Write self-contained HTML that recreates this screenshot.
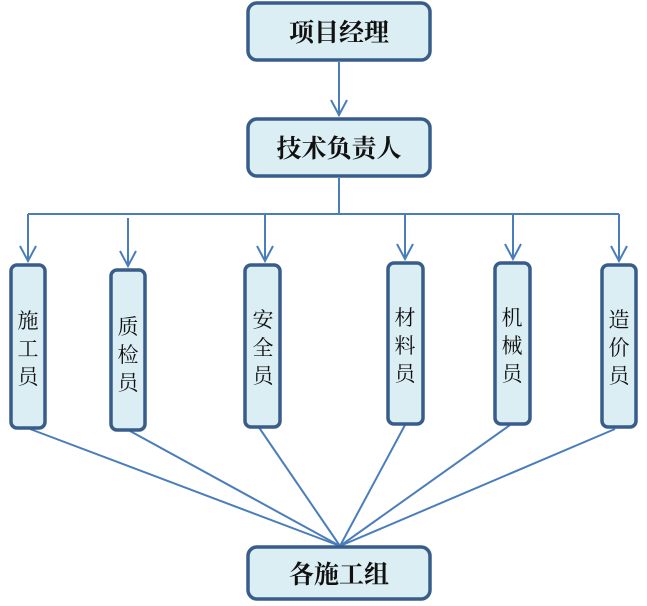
<!DOCTYPE html>
<html><head><meta charset="utf-8"><style>
body{margin:0;background:#fff;width:647px;height:606px;overflow:hidden}
svg{display:block}
text{font-family:"Liberation Serif","Noto Serif CJK SC",serif;fill:#111}
</style></head><body>
<svg width="647" height="606" viewBox="0 0 647 606">
<g stroke="#4a7ebb" stroke-width="2" fill="none">
<line x1="339" y1="62" x2="339" y2="116"/>
<polyline points="331,100 339,115 347,100"/>
<line x1="339" y1="178" x2="339" y2="214"/>
<line x1="28" y1="214" x2="619" y2="214"/>
<line x1="28" y1="214" x2="28" y2="261"/><polyline points="20,246 28,261 36,246"/>
<line x1="128" y1="218" x2="128" y2="266"/><polyline points="120,251 128,266 136,251"/>
<line x1="265" y1="214" x2="265" y2="261"/><polyline points="257,246 265,261 273,246"/>
<line x1="405" y1="214" x2="405" y2="259"/><polyline points="397,244 405,259 413,244"/>
<line x1="513" y1="214" x2="513" y2="259"/><polyline points="505,244 513,259 521,244"/>
<line x1="619" y1="214" x2="619" y2="261"/><polyline points="611,246 619,261 627,246"/>
<line x1="30" y1="429" x2="340" y2="546"/>
<line x1="130" y1="431" x2="340" y2="546"/>
<line x1="258" y1="426" x2="340" y2="546"/>
<line x1="405" y1="425" x2="340" y2="546"/>
<line x1="510" y1="425" x2="340" y2="546"/>
<line x1="615" y1="429" x2="340" y2="546"/>
</g>
<g stroke="#385d8a" stroke-width="3.5" fill="#dbeef4">
<rect x="248" y="3" width="182" height="57" rx="9"/>
<rect x="248" y="119" width="182" height="57" rx="9"/>
<rect x="248" y="547" width="182" height="52" rx="9"/>
<rect x="11" y="265" width="34" height="163" rx="6"/>
<rect x="111" y="270" width="34" height="160" rx="6"/>
<rect x="245" y="265" width="35" height="162" rx="6"/>
<rect x="388" y="263" width="35" height="161" rx="6"/>
<rect x="495" y="263" width="35" height="161" rx="6"/>
<rect x="602" y="265" width="34" height="162" rx="6"/>
</g>
<g font-size="25" font-weight="bold" text-anchor="middle">
<text x="339" y="41">项目经理</text>
<text x="339" y="157">技术负责人</text>
<text x="339" y="583">各施工组</text>
</g>
<g font-size="21" text-anchor="middle">
<text x="28" y="328">施</text><text x="28" y="356">工</text><text x="28" y="384">员</text>
<text x="128" y="334">质</text><text x="128" y="362">检</text><text x="128" y="390">员</text>
<text x="263" y="327">安</text><text x="263" y="355">全</text><text x="263" y="383">员</text>
<text x="405" y="325">材</text><text x="405" y="353">料</text><text x="405" y="381">员</text>
<text x="512" y="325">机</text><text x="512" y="353">械</text><text x="512" y="381">员</text>
<text x="619" y="327">造</text><text x="619" y="355">价</text><text x="619" y="383">员</text>
</g>
</svg>
</body></html>
